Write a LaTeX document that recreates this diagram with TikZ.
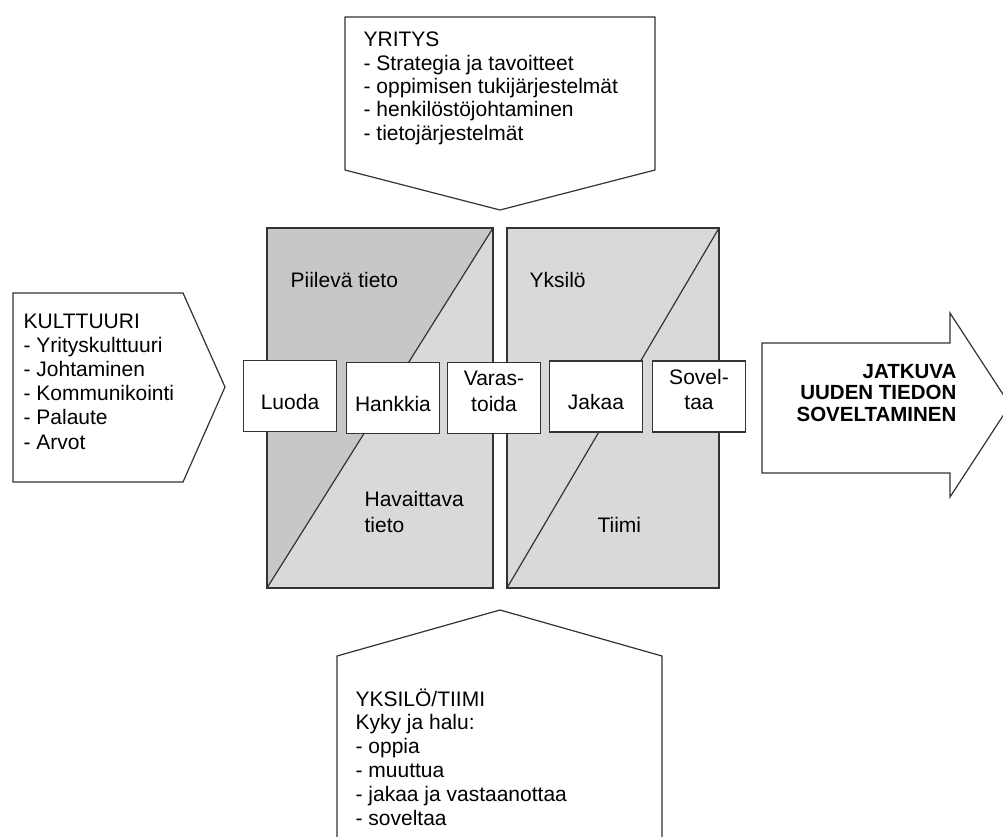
\documentclass[tikz,border=0pt]{standalone}
\usepackage{fontspec}
\setmainfont{Liberation Sans}
\definecolor{tacitgray}{gray}{0.78}
\definecolor{panelgray}{gray}{0.85}
\definecolor{edgegray}{gray}{0.2}
\begin{document}
\begin{tikzpicture}[x=1pt,y=-1pt,line width=1.2pt,
    outline/.style={draw=edgegray,line join=miter},
    txt/.style={anchor=base west,inner sep=0pt,align=left,font=\fontsize{21}{#1}\selectfont},
    txt/.default=24,
    stage/.style={draw=edgegray,fill=white,minimum width=93pt,minimum height=71pt,inner sep=0pt,
      align=center,font=\fontsize{21}{25.5}\selectfont,text height=26pt,text depth=0pt}]
\useasboundingbox (0,0) rectangle (1003,836);

% input arrows
\draw[outline,fill=white] (345,17) -- (655,17) -- (655,170) -- (500,210) -- (345,170) -- cycle;
\draw[outline,fill=white] (13,293) -- (183,293) -- (225,387) -- (183,482) -- (13,482) -- cycle;
\draw[outline,fill=white] (337,656) -- (500,610) -- (662,656) -- (662,850) -- (337,850) -- cycle;
\draw[outline,fill=white] (762,343) -- (950,343) -- (950,313) -- (1010,405) -- (950,497)
  -- (950,473) -- (762,473) -- cycle;

% multi-line texts sit on the baseline of their last line
\node[txt=23.3] (yritys) at (363,140) {YRITYS\\- Strategia ja tavoitteet\\- oppimisen tukijärjestelmät\\- henkilöstöjohtaminen\\- tietojärjestelmät};
\node[txt=24.2] (kulttuuri) at (23,449) {KULTTUURI\\- Yrityskulttuuri\\- Johtaminen\\- Kommunikointi\\- Palaute\\- Arvot};
\node[txt=23.8] (yksilotiimi) at (355,825) {YKSILÖ/TIIMI\\Kyky ja halu:\\- oppia\\- muuttua\\- jakaa ja vastaanottaa\\- soveltaa};
\node[anchor=base east,inner sep=0pt,align=right,font=\fontsize{20.5}{21.5}\selectfont\bfseries]
  (jatkuva) at (957,421) {JATKUVA\\UUDEN TIEDON\\SOVELTAMINEN};

% knowledge panels
\fill[panelgray] (267,228) rectangle (493,588);
\fill[tacitgray] (267,228) -- (493,228) -- (267,588) -- cycle;
\draw[outline] (267,228) rectangle (493,588);
\draw[outline] (267,588) -- (493,228);
\draw[outline,fill=panelgray] (507,228) rectangle (719,588);
\draw[outline] (507,588) -- (719,228);

\node[txt] (piileva) at (290,287) {Piilevä tieto};
\node[txt=26] (havaittava) at (364,532) {Havaittava\\tieto};
\node[txt] (yksilo) at (529,287) {Yksilö};
\node[txt] (tiimi) at (597,532) {Tiimi};

% process steps
\node[stage] (luoda) at (290,396) {Luoda};
\node[stage] (hankkia) at (393,398) {Hankkia};
\node[stage] (varastoida) at (494,398) {Varas-\\toida};
\node[stage] (jakaa) at (596,396.5) {Jakaa};
\node[stage] (soveltaa) at (699,396.5) {Sovel-\\taa};
\end{tikzpicture}
\end{document}
